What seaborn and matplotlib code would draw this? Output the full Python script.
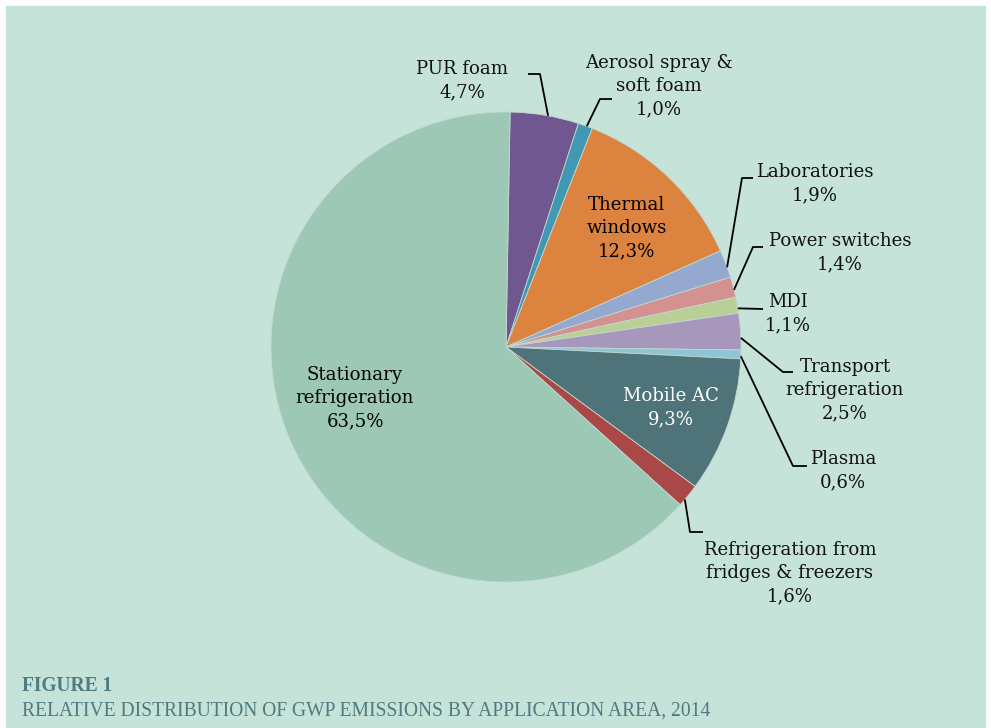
import numpy as np
import matplotlib
matplotlib.use("Agg")
import matplotlib.pyplot as plt
import seaborn as sns

# Data
labels = ["PUR foam", "Aerosol spray &\nsoft foam", "Thermal\nwindows", "Laboratories",
          "Power switches", "MDI", "Transport\nrefrigeration", "Plasma", "Mobile AC",
          "Refrigeration from\nfridges & freezers", "Stationary\nrefrigeration"]
shares = [4.7, 1.0, 12.3, 1.9, 1.4, 1.1, 2.5, 0.6, 9.3, 1.6, 63.5]
colors = ["#71578f", "#4198b3", "#dc843f", "#95a9d0", "#d39290", "#b9cf96",
          "#a797bd", "#8fc4d5", "#4e747a", "#a94846", "#9dc8b5"]

sns.set_style("white")
plt.rcParams["font.family"] = ["DejaVu Serif"]

BG = "#c6e3d9"
W, H = 991, 728
fig = plt.figure(figsize=(W / 100, H / 100), dpi=100)
fig.patch.set_facecolor("white")
ax = fig.add_axes([0, 0, 1, 1])

cx, cy, R = 506, H - 347, 235
wedges, _ = ax.pie(shares, colors=sns.color_palette(colors), startangle=89,
                   counterclock=False, center=(cx, cy), radius=R,
                   wedgeprops=dict(linewidth=0.6, edgecolor="#c0d8d0"))
ax.set_xlim(0, W)
ax.set_ylim(0, H)
ax.set_aspect("equal")
ax.axis("off")
ax.add_patch(plt.Rectangle((6, 0), W - 12, H - 6, color=BG, zorder=-5))

fs = 13.1
ls = 1.38

def edge_point(i, frac=0.5):
    w = wedges[i]
    a = np.deg2rad(w.theta1 + (w.theta2 - w.theta1) * frac)
    return cx + R * np.cos(a), cy + R * np.sin(a)

def pct(v):
    return f"{v:.1f}".replace(".", ",") + "%"

# inside labels: (index, x, y centre, colour)
inside = [(2, 627, 228, "black"), (8, 671, 408, "white"), (10, 355, 398, "black")]
for i, x, y, c in inside:
    ax.text(x, H - y, labels[i] + "\n" + pct(shares[i]), ha="center", va="center",
            fontsize=fs, color=c, linespacing=ls)

# outside labels: (index, text x, text centre y, leader start frac, elbow, end)
outside = [
    (0, 462, 81, 0.45, (540, 74), (528, 74)),
    (1, 659, 86, 0.4, (600, 99), (612, 99)),
    (3, 815, 184, 0.37, (742, 178), (753, 178)),
    (4, 840, 253, 0.36, (753, 247), (763, 247)),
    (5, 788, 314, 0.3, (763, 309), (763, 309)),
    (6, 845, 390, 0.33, (783, 372), (793, 372)),
    (7, 843, 471, 0.3, (793, 466), (807, 466)),
    (9, 790, 573, 0.3, (690, 532), (703, 532)),
]
for i, x, y, frac, elbow, end in outside:
    px, py = edge_point(i, frac)
    ax.plot([px, elbow[0], end[0]], [py, H - elbow[1], H - end[1]],
            color="black", lw=1.3, solid_capstyle="butt")
    ax.text(x, H - y, labels[i] + "\n" + pct(shares[i]), ha="center", va="center",
            fontsize=fs, color="#111111", linespacing=ls)

cap = "#4f7a80"
ax.text(22, H - 686, "FIGURE 1", fontsize=14.05, fontweight="bold", color=cap,
        ha="left", va="center", family="Liberation Serif")
ax.text(22, H - 711, "RELATIVE DISTRIBUTION OF GWP EMISSIONS BY APPLICATION AREA, 2014",
        fontsize=14.05, color=cap, ha="left", va="center", family="Liberation Serif")

fig.savefig("out.png", dpi=100, facecolor="white")
